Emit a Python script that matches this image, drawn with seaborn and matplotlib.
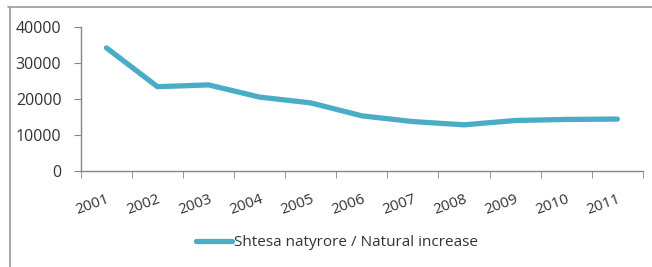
import seaborn as sns
import matplotlib.pyplot as plt
import matplotlib.lines as mlines
import pandas as pd
import numpy as np

years = ["2001", "2002", "2003", "2004", "2005", "2006", "2007", "2008", "2009", "2010", "2011"]
natural_increase = [34200, 23400, 23900, 20500, 18900, 15300, 13700, 12800, 14000, 14300, 14400]
label = "Shtesa natyrore / Natural increase"

df = pd.DataFrame({"year": years, "value": natural_increase})

sns.set_style("white")
plt.rcParams["font.family"] = ["Open Sans", "DejaVu Sans"]

fig = plt.figure(figsize=(6.52, 2.67), dpi=100)
ax = fig.add_axes([0.124, 0.36, 0.862, 0.539])

sns.lineplot(x="year", y="value", data=df, ax=ax, color="#4BACC6",
             linewidth=3.8, sort=False, legend=False)

ax.set_xlim(-0.5, len(years) - 0.5)
ax.set_ylim(0, 40000)
ax.set_yticks([0, 10000, 20000, 30000, 40000])
ax.set_yticklabels(["0", "10000", "20000", "30000", "40000"], fontsize=11.5, color="#333333")
ax.set_xticks(range(len(years)))
ax.set_xticklabels(years, rotation=20, fontsize=11, color="#333333",
                   ha="right", rotation_mode="anchor")
ax.set_xticks(np.arange(-0.5, len(years)), minor=True)
ax.tick_params(axis="x", which="major", length=0, pad=15)
ax.tick_params(axis="x", which="minor", length=5, color="#868686", direction="out", bottom=True)
ax.tick_params(axis="y", length=5, color="#868686", direction="out", left=True, pad=9)
ax.set_xlabel("")
ax.set_ylabel("")
for s in ["top", "right"]:
    ax.spines[s].set_visible(False)
for s in ["left", "bottom"]:
    ax.spines[s].set_color("#868686")
    ax.spines[s].set_linewidth(1)

handle = mlines.Line2D([], [], color="#4BACC6", linewidth=3.8)
fig.legend([handle], [label], loc="center", bbox_to_anchor=(0.517, 0.09),
           frameon=False, fontsize=11, handlelength=2.3, handletextpad=0.15,
           labelcolor="#333333")

# chart area border (left and top)
fig.add_artist(mlines.Line2D([0.015, 0.015], [0.0, 0.974], color="#9a9a9a", linewidth=1.2))
fig.add_artist(mlines.Line2D([0.012, 1.0], [0.974, 0.974], color="#9a9a9a", linewidth=1.2))

plt.savefig("out.png", dpi=100)
